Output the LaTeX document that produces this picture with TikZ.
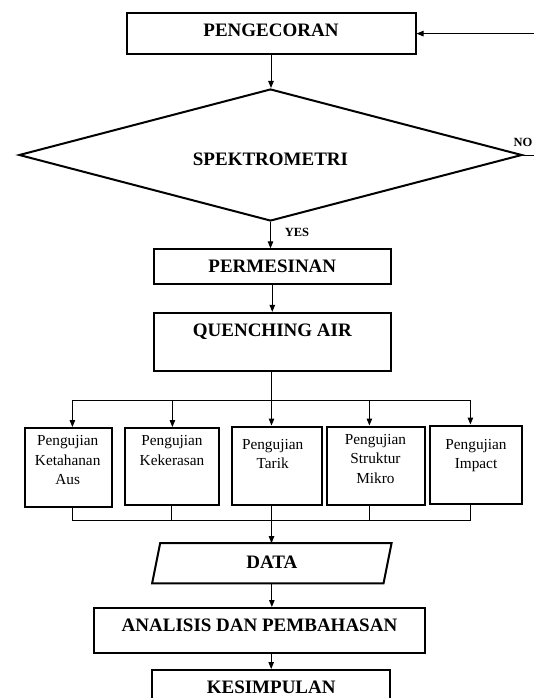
\documentclass[tikz,border=0pt]{standalone}
\usepackage{fontspec}
\setmainfont{Liberation Serif}
\usetikzlibrary{arrows.meta,shapes.geometric}
\tikzset{
  bigbox/.style={draw, line width=2pt, rectangle, inner sep=0pt, text height=12.6pt,
    font=\bfseries\fontsize{19}{23}\selectfont, align=center},
  tbox/.style={draw, line width=2pt, rectangle, inner sep=0pt},
  ttext/.style={inner sep=0pt, anchor=north, align=center, font=\fontsize{15.3}{19.5}\selectfont},
  arr/.style={line width=1pt, -{Triangle[length=7pt,width=5.5pt]}},
  ln/.style={line width=1pt},
  lab/.style={inner sep=0pt, font=\bfseries\fontsize{12.5}{14}\selectfont}
}
\begin{document}
\begin{tikzpicture}[x=1pt,y=-1pt]
\useasboundingbox (0,0) rectangle (533,698);
% main column
\node[bigbox, minimum width=289pt, minimum height=41.5pt, text depth=7.2pt] (pen) at (271,33.6) {PENGECORAN};
\node[draw, diamond, aspect=3.81, line width=2pt, inner sep=0pt, minimum width=503pt, minimum height=132pt,
  text height=20pt, text depth=0pt, font=\bfseries\fontsize{19}{23}\selectfont] (spk) at (270.5,155) {SPEKTROMETRI};
\node[bigbox, minimum width=237.3pt, minimum height=34.3pt, text depth=1.6pt] (per) at (272.3,266.5) {PERMESINAN};
\node[bigbox, minimum width=237.3pt, minimum height=58.3pt, text depth=24pt] (que) at (272.3,342) {QUENCHING AIR};
% test boxes
\node[tbox, minimum width=87.5pt, minimum height=79pt] (t1) at (68.25,467.5) {};
\node[tbox, minimum width=94pt, minimum height=77pt] (t2) at (172,466.5) {};
\node[tbox, minimum width=90pt, minimum height=78.5pt] (t3) at (277,465.75) {};
\node[tbox, minimum width=98pt, minimum height=78.5pt] (t4) at (376,465.75) {};
\node[tbox, minimum width=92pt, minimum height=78.2pt] (t5) at (476,464.6) {};
\node[ttext] (t1x) at (67.7,435.6) {Pengujian\\Ketahanan\\Aus};
\node[ttext] (t2x) at (172,435.6) {Pengujian\\Kekerasan};
\node[ttext] (t3x) at (272.6,439.1) {Pengujian\\Tarik};
\node[ttext] (t4x) at (375.5,434.1) {Pengujian\\Struktur\\Mikro};
\node[ttext] (t5x) at (476,439.1) {Pengujian\\Impact};
% data and below
\node[inner sep=0pt, minimum width=231pt, minimum height=39.7pt, text height=12.6pt, text depth=2.4pt,
  font=\bfseries\fontsize{19}{23}\selectfont] (data) at (271.85,563.2) {DATA};
\draw[line width=2pt] ([xshift=4pt]data.north west) -- ([xshift=4pt]data.north east)
  -- ([xshift=-4pt]data.south east) -- ([xshift=-4pt]data.south west) -- cycle;
\node[bigbox, minimum width=331pt, minimum height=45.3pt, text depth=11.2pt] (an) at (259.5,630.65) {ANALISIS DAN PEMBAHASAN};
\node[bigbox, minimum width=237.7pt, minimum height=34pt, text depth=0pt] (kes) at (271.2,687) {KESIMPULAN};
% labels
\node[lab] (yes) at (297,232) {YES};
\node[lab] (no) at (523,142) {NO};
% bus coordinates
\coordinate (b1) at (72.4,400);
\coordinate (b2) at (172.4,400);
\coordinate (b3) at (271.5,400);
\coordinate (b4) at (369.4,400);
\coordinate (b5) at (470.4,400);
\coordinate (c1) at (72,520.7);
\coordinate (c2) at (171,520.7);
\coordinate (c3) at (271.5,520.7);
\coordinate (c4) at (369,520.7);
\coordinate (c5) at (470,520.7);
\coordinate (noA) at (548,155);
\coordinate (noB) at (548,33.6);
% connectors
\draw[arr] (pen.south) -- (pen.south |- spk.north);
\draw[arr] (spk.south) -- (spk.south |- per.north);
\draw[arr] (per.south) -- (que.north);
\draw[arr] (spk.east) -- (noA) -- (noB) -- (pen.east);
\draw[ln] (b3 |- que.south) -- (b3);
\draw[ln] (b1) -- (b5);
\draw[arr] (b1) -- (b1 |- t1.north);
\draw[arr] (b2) -- (b2 |- t2.north);
\draw[arr] (b3) -- (b3 |- t3.north);
\draw[arr] (b4) -- (b4 |- t4.north);
\draw[arr] (b5) -- (b5 |- t5.north);
\draw[ln] (c1 |- t1.south) -- (c1);
\draw[ln] (c2 |- t2.south) -- (c2);
\draw[ln] (c3 |- t3.south) -- (c3);
\draw[ln] (c4 |- t4.south) -- (c4);
\draw[ln] (c5 |- t5.south) -- (c5);
\draw[ln] (c1) -- (c5);
\draw[arr] (c3) -- (c3 |- data.north);
\draw[arr] (data.south) -- (data.south |- an.north);
\draw[arr] (kes.north |- an.south) -- (kes.north);
\end{tikzpicture}
\end{document}
